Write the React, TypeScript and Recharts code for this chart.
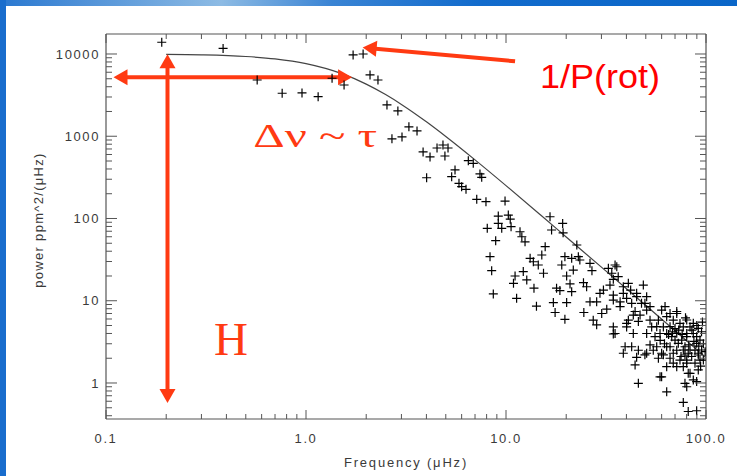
import React from "react";
import {
  ComposedChart,
  Line,
  Scatter,
  XAxis,
  YAxis,
  ReferenceLine,
  ReferenceDot,
} from "recharts";

// model curve (frequency in µHz, power in ppm^2/µHz)
const CURVE_F = [0.2, 0.3, 0.5, 0.7, 1, 1.5, 2, 2.5, 3, 4, 5, 7, 10, 15, 20, 30, 50, 70, 100];
const CURVE_P = [9896, 9760, 9328, 8726, 7642, 5804, 4303, 3210, 2438, 1498, 993, 516, 251, 108.6, 59.6, 25.6, 8.76, 4.32, 2.04];

// measured spectrum, [freq, power]
const KNEE_POINTS = [
  [0.19, 13900], [0.385, 11700], [0.57, 4830], [0.76, 3330], [0.955, 3360], [1.15, 3030],
  [1.35, 5070], [1.55, 4200], [1.72, 9730], [1.93, 10000], [2.09, 5560], [2.29, 4830],
  [2.54, 2400], [2.88, 2030], [2.69, 930],
];
const SLOPE_POINTS = [
  [3.02, 980], [3.27, 1300], [3.59, 1160], [3.85, 644], [4.17, 560], [4.52, 720], [4.84, 783],
  [5.13, 720], [4.95, 575], [4.01, 313], [5.56, 389], [5.35, 322], [5.82, 268], [6.0, 244],
  [6.31, 226], [6.48, 504], [6.86, 469], [7.41, 348], [7.56, 317], [7.14, 171], [7.94, 160],
  [9.89, 163], [9.15, 107], [10.27, 110], [10.5, 98], [9.15, 87], [9.52, 76], [10.6, 79.5],
  [8.06, 76], [8.88, 53.7], [11.75, 69], [12.0, 60], [12.45, 52], [8.32, 34.3], [8.48, 23.2],
  [8.64, 12.1], [11.3, 10.7], [11.1, 20], [10.9, 16.3], [12.2, 22.6], [12.7, 17.9],
];
const MID_POINTS = [
  [13.2, 32.8], [13.7, 29.8], [14.5, 27.2], [15.1, 36], [15.7, 45.4], [15.4, 21.6], [13.8, 14.2],
  [14.2, 8.6], [16.6, 105], [16.9, 72.5], [19.2, 87], [19.3, 67], [19.7, 34.3], [19.0, 27.2],
  [21.3, 32.8], [22.6, 47.6], [23.0, 34.3], [23.4, 31.3], [21.7, 23.6], [20.1, 20], [20.9, 16],
  [17.9, 14.2], [18.6, 13.3], [17.25, 9.5], [20.1, 9.5], [17.6, 7.2], [19.7, 5.95], [24.5, 7.2],
  [21.3, 12.9], [24.4, 16.6], [25.3, 14.8], [26.3, 28.5], [26.9, 23.2], [26.3, 9.7], [28.4, 9.7],
  [29.5, 12.3], [30.7, 13.5], [27.3, 5.8], [28.4, 5.1], [30.1, 7.0], [31.9, 7.9],
];
const HIGH_POINTS = [
  [32.5, 24.8], [33.8, 21.6], [35.8, 25.9], [34.4, 18.2], [33.1, 15.5], [36.4, 19.6], [38.6, 12.3],
  [40.9, 16.3], [40.1, 10.7], [34.4, 10.2], [37.2, 9.7], [42.5, 9.3], [34.4, 4.8], [35.1, 4.0],
  [40.1, 4.8], [40.9, 5.8], [45.0, 12.3], [48.6, 15.5], [49.5, 9.3], [50.5, 11.2], [52.5, 8.5],
  [44.2, 7.4], [46.8, 6.7], [45.9, 5.6], [43.3, 4.0], [39.4, 2.76], [38.6, 2.3], [42.5, 2.76],
  [45.9, 2.5], [45.0, 2.05], [44.2, 1.66], [45.9, 0.99], [50.5, 4.0], [50.5, 2.3], [53.5, 4.8],
  [55.6, 3.66], [56.7, 2.76], [57.8, 5.8], [34.4, 3.94], [49.5, 2.2], [58.9, 1.19], [54.5, 2.5],
  [57.8, 2.0], [52.5, 2.9], [58.9, 4.0], [52.5, 5.8], [56.7, 4.84], [40.1, 5.3], [43.3, 6.7],
  [37.2, 8.5], [45.0, 11.2], [34.4, 11.7], [35.1, 27.2], [38.6, 14.8], [42.0, 13.5], [47.6, 9.3],
  [50.5, 7.7],
];
const TOP_POINTS = [
  [60.0, 7.7], [62.4, 8.5], [63.6, 6.4], [66.1, 7.0], [68.6, 5.8], [71.4, 7.0], [61.2, 4.8],
  [63.6, 4.0], [67.4, 3.66], [70.0, 3.33], [66.1, 2.76], [68.6, 2.3], [71.4, 2.5], [74.1, 5.3],
  [77.0, 4.8], [80.1, 4.0], [83.2, 4.8], [86.4, 4.0], [89.8, 3.66], [93.3, 3.33], [75.6, 3.33],
  [78.5, 2.76], [81.5, 2.3], [84.8, 2.1], [88.1, 2.5], [91.5, 2.3], [74.1, 1.9], [77.0, 1.58],
  [80.1, 1.9], [68.6, 1.74], [61.2, 2.2], [60.0, 1.19], [63.6, 0.78], [78.5, 0.99], [80.1, 0.9],
  [86.4, 1.09], [89.8, 1.04], [91.5, 1.44], [93.3, 1.9], [83.2, 1.31], [77.0, 0.58], [81.5, 0.45],
  [89.8, 0.46], [81.5, 1.31], [88.1, 1.74], [80.1, 1.74], [71.4, 1.58], [66.1, 2.0], [60.0, 2.3],
  [63.6, 2.76], [72.7, 3.04], [77.0, 2.52], [83.2, 2.52], [89.8, 3.04], [95.1, 2.52], [91.5, 2.19],
  [71.4, 4.02], [80.1, 3.66], [78.5, 2.19], [63.6, 1.58], [71.4, 7.4], [80.1, 5.83], [86.4, 5.32],
  [91.5, 4.62], [66.1, 4.84], [85, 4.4], [95, 4.2], [97, 3.0], [92, 2.8], [87, 3.2], [76, 3.9],
  [73, 4.4], [70, 4.6], [65, 3.9], [62, 3.0], [59, 3.3], [97, 1.9], [94, 1.6], [99, 2.4], [75, 2.1],
  [82, 2.9], [90, 5.0], [96, 5.5], [79, 6.2], [68, 4.2],
];

const X_MAJOR = [0.1, 1, 10, 100];
const X_LABELS = ["0.1", "1.0", "10.0", "100.0"];
const Y_MAJOR = [1, 10, 100, 1000, 10000];
const Y_LABELS = ["1", "10", "100", "1000", "10000"];
const X_TICKS = [
  0.1, 0.2, 0.3, 0.4, 0.5, 0.6, 0.7, 0.8, 0.9, 1, 2, 3, 4, 5, 6, 7, 8, 9,
  10, 20, 30, 40, 50, 60, 70, 80, 90, 100,
];
const Y_TICKS = [
  0.4, 0.5, 0.6, 0.7, 0.8, 0.9, 1, 2, 3, 4, 5, 6, 7, 8, 9, 10, 20, 30, 40, 50, 60, 70, 80, 90,
  100, 200, 300, 400, 500, 600, 700, 800, 900, 1000, 2000, 3000, 4000, 5000, 6000, 7000, 8000,
  9000, 10000,
];

const X_DOMAIN = [0.1, 100];
const Y_DOMAIN = [0.365, 17500];

const curve = CURVE_F.map((f, i) => ({ f, p: CURVE_P[i] }));
const points = [...KNEE_POINTS, ...SLOPE_POINTS, ...MID_POINTS, ...HIGH_POINTS, ...TOP_POINTS].map(
  ([f, p]) => ({ f, p })
);

const AXIS = "#555";
const TEXT = "#3a3a3a";
const SANS = "'Liberation Sans', Arial, Helvetica, sans-serif";
const SERIF = "'Liberation Serif', 'Times New Roman', serif";
const ARROW = "#ff3a12";

function isMajor(list: number[], v: number) {
  return list.some((m) => Math.abs(m - v) < 1e-9);
}

function BottomTick(props: any) {
  const { x, y, payload } = props;
  const v = payload.value;
  const idx = X_MAJOR.findIndex((m) => Math.abs(m - v) < 1e-9);
  const major = idx >= 0;
  return (
    <g>
      <line x1={x} x2={x} y1={y} y2={y - (major ? 9 : 5)} stroke={AXIS} strokeWidth={1} />
      {major && (
        <text x={x} y={y + 24} textAnchor="middle" fontSize={13} letterSpacing={1.6} fill={TEXT} fontFamily={SANS}>
          {X_LABELS[idx]}
        </text>
      )}
    </g>
  );
}

function TopTick(props: any) {
  const { x, y, payload } = props;
  const major = isMajor(X_MAJOR, payload.value);
  return <line x1={x} x2={x} y1={y} y2={y + (major ? 9 : 5)} stroke={AXIS} strokeWidth={1} />;
}

function LeftTick(props: any) {
  const { x, y, payload } = props;
  const v = payload.value;
  const idx = Y_MAJOR.findIndex((m) => Math.abs(m - v) < 1e-9);
  const major = idx >= 0;
  return (
    <g>
      <line x1={x} x2={x + (major ? 11 : 6)} y1={y} y2={y} stroke={AXIS} strokeWidth={1} />
      {major && (
        <text x={x - 6} y={y} dy="0.36em" textAnchor="end" fontSize={13} letterSpacing={1.6} fill={TEXT} fontFamily={SANS}>
          {Y_LABELS[idx]}
        </text>
      )}
    </g>
  );
}

function RightTick(props: any) {
  const { x, y, payload } = props;
  const major = isMajor(Y_MAJOR, payload.value);
  return <line x1={x} x2={x - (major ? 11 : 6)} y1={y} y2={y} stroke={AXIS} strokeWidth={1} />;
}

function Plus(props: any) {
  const { cx, cy } = props;
  if (cx == null || cy == null) return null;
  const s = 4.5;
  return (
    <path
      d={`M${cx - s},${cy}H${cx + s}M${cx},${cy - s}V${cy + s}`}
      stroke="#000"
      strokeWidth={1.2}
      fill="none"
    />
  );
}

// arrow drawn between the two reference-line end points
const arrowShape = (both: boolean) => (props: any) => {
  const { x1, y1, x2, y2 } = props;
  const dx = x2 - x1;
  const dy = y2 - y1;
  const len = Math.hypot(dx, dy) || 1;
  const ux = dx / len;
  const uy = dy / len;
  const headLen = 14;
  const half = 8;
  const head = (tx: number, ty: number, dirx: number, diry: number) => {
    const bx = tx - dirx * headLen;
    const by = ty - diry * headLen;
    return `${tx},${ty} ${bx - diry * half},${by + dirx * half} ${bx + diry * half},${by - dirx * half}`;
  };
  const sx = both ? x1 + ux * (headLen - 1) : x1;
  const sy = both ? y1 + uy * (headLen - 1) : y1;
  return (
    <g>
      <line x1={sx} y1={sy} x2={x2 - ux * (headLen - 1)} y2={y2 - uy * (headLen - 1)} stroke={ARROW} strokeWidth={4} />
      <polygon points={head(x2, y2, ux, uy)} fill={ARROW} />
      {both && <polygon points={head(x1, y1, -ux, -uy)} fill={ARROW} />}
    </g>
  );
};

const textShape = (text: string, opts: any) => (props: any) => {
  const { cx, cy } = props;
  return (
    <text x={cx} y={cy} {...opts}>
      {text}
    </text>
  );
};

export default function App() {
  return (
    <div
      style={{
        position: "absolute",
        left: 0,
        top: 0,
        width: 737,
        height: 476,
        background: "#fff",
        overflow: "hidden",
      }}
    >
      <div
        style={{
          position: "absolute",
          left: 0,
          top: 0,
          width: 737,
          height: 6,
          background: "linear-gradient(90deg, #2a78d0 0%, #8dbbe4 30%, #3a84d4 45%, #126bcc 65%, #0a66c8 100%)",
        }}
      />
      <div style={{ position: "absolute", left: 0, top: 0, width: 6, height: 476, background: "#196dcd" }} />
      <div style={{ position: "absolute", left: 0, top: 0 }}>
        <ComposedChart width={737} height={476} margin={{ top: 33, right: 30, bottom: 56, left: 105 }}>
          <XAxis
            xAxisId="b"
            type="number"
            dataKey="f"
            scale="log"
            domain={X_DOMAIN}
            allowDataOverflow
            ticks={X_TICKS}
            interval={0}
            height={1}
            tickSize={0}
            tickMargin={0}
            tickLine={false}
            tick={<BottomTick />}
            axisLine={{ stroke: AXIS, strokeWidth: 1.2 }}
          />
          <XAxis
            xAxisId="t"
            orientation="top"
            type="number"
            dataKey="f"
            scale="log"
            domain={X_DOMAIN}
            allowDataOverflow
            ticks={X_TICKS}
            interval={0}
            height={1}
            tickSize={0}
            tickMargin={0}
            tickLine={false}
            tick={<TopTick />}
            axisLine={{ stroke: AXIS, strokeWidth: 1.2 }}
          />
          <YAxis
            yAxisId="l"
            type="number"
            dataKey="p"
            scale="log"
            domain={Y_DOMAIN}
            allowDataOverflow
            ticks={Y_TICKS}
            interval={0}
            width={1}
            tickSize={0}
            tickMargin={0}
            tickLine={false}
            tick={<LeftTick />}
            axisLine={{ stroke: AXIS, strokeWidth: 1.2 }}
          />
          <YAxis
            yAxisId="r"
            orientation="right"
            type="number"
            dataKey="p"
            scale="log"
            domain={Y_DOMAIN}
            allowDataOverflow
            ticks={Y_TICKS}
            interval={0}
            width={1}
            tickSize={0}
            tickMargin={0}
            tickLine={false}
            tick={<RightTick />}
            axisLine={{ stroke: AXIS, strokeWidth: 1.2 }}
          />
          <Scatter
            xAxisId="b"
            yAxisId="l"
            data={points}
            dataKey="p"
            shape={Plus}
            isAnimationActive={false}
          />
          <Line
            xAxisId="b"
            yAxisId="l"
            data={curve}
            dataKey="p"
            type="monotone"
            stroke="#444"
            strokeWidth={1.2}
            dot={false}
            activeDot={false}
            isAnimationActive={false}
          />
          <ReferenceLine
            xAxisId="b"
            yAxisId="l"
            segment={[{ x: 0.203, y: 9900 }, { x: 0.203, y: 0.57 }]}
            shape={arrowShape(true)}
          />
          <ReferenceLine
            xAxisId="b"
            yAxisId="l"
            segment={[{ x: 0.109, y: 5200 }, { x: 1.7, y: 5200 }]}
            shape={arrowShape(true)}
          />
          <ReferenceLine
            xAxisId="b"
            yAxisId="l"
            segment={[{ x: 11.1, y: 8150 }, { x: 1.92, y: 12000 }]}
            shape={arrowShape(false)}
          />
          <ReferenceDot
            xAxisId="b"
            yAxisId="l"
            x={14.8}
            y={3830}
            r={0}
            shape={textShape("1/P(rot)", {
              fontSize: 34,
              fill: "#ff0000",
              fontFamily: SANS,
              textLength: 120,
              lengthAdjust: "spacingAndGlyphs",
            })}
          />
          <ReferenceDot
            xAxisId="b"
            yAxisId="l"
            x={0.545}
            y={747}
            r={0}
            shape={textShape("Δν ~ τ", {
              fontSize: 34,
              fill: ARROW,
              fontFamily: SERIF,
              textLength: 124,
              lengthAdjust: "spacingAndGlyphs",
            })}
          />
          <ReferenceDot
            xAxisId="b"
            yAxisId="l"
            x={0.347}
            y={2.19}
            r={0}
            shape={textShape("H", { fontSize: 47, fill: ARROW, fontFamily: SERIF })}
          />
        </ComposedChart>
      </div>
      <div
        style={{
          position: "absolute",
          left: 0,
          top: 455,
          width: 812,
          textAlign: "center",
          fontFamily: SANS,
          fontSize: 13,
          letterSpacing: 1.8,
          color: TEXT,
        }}
      >
        Frequency (μHz)
      </div>
      <div
        style={{
          position: "absolute",
          left: 38,
          top: 220,
          transform: "translate(-50%, -50%) rotate(-90deg)",
          whiteSpace: "nowrap",
          fontFamily: SANS,
          fontSize: 13,
          letterSpacing: 1.3,
          color: TEXT,
        }}
      >
        power ppm^2/(μHz)
      </div>
    </div>
  );
}
